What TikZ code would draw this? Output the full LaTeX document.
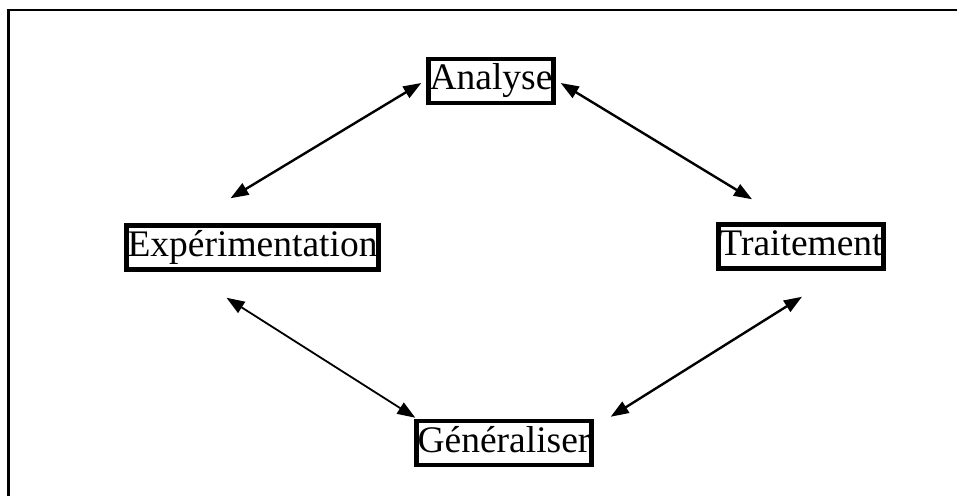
\documentclass[tikz,border=0pt]{standalone}
\usepackage{fontspec}
\setmainfont{Liberation Serif}
\usepackage{tikz}
\usetikzlibrary{arrows.meta, positioning}
\tikzset{
  stagebox/.style={draw=black, line width=4.5pt, fill=white,
    inner xsep=1pt, inner ysep=5pt, text height=26pt, text depth=8pt,
    font=\fontsize{37.5}{44}\selectfont},
  cyclelink/.style={{Triangle[length=18pt,width=13pt]}-{Triangle[length=18pt,width=13pt]},
    line width=2.4pt},
  framerule/.style={line width=2.5pt}
}

\begin{document}
\begin{tikzpicture}[x=1pt, y=1pt]
  \useasboundingbox (0,0) rectangle (957,496);

  %% Open frame (top and left only)
  \draw[framerule] (8.5,0) -- (8.5,486) -- (957,486);

  %% Stages of the cycle
  \node[stagebox] (ana) at (491,415)   {Analyse};
  \node[stagebox] (exp) at (252.5,248.5) {Expérimentation};
  \node[stagebox] (trt) at (801,249.5) {Traitement};
  \node[stagebox] (gen) at (504,53)    {Généraliser};

  %% Links
  \draw[cyclelink] ([shift={(-5pt,-2pt)}]ana.west) -- ([shift={(-22pt,25pt)}]exp.north);
  \draw[cyclelink] ([shift={(5pt,-2pt)}]ana.east) -- ([shift={(-49pt,23pt)}]trt.north);
  \draw[cyclelink, line width=1.8pt] ([shift={(-26pt,-26pt)}]exp.south) -- ([shift={(1pt,1pt)}]gen.north west);
  \draw[cyclelink] ([shift={(1pt,-26pt)}]trt.south) -- ([shift={(17pt,2pt)}]gen.north east);
\end{tikzpicture}
\end{document}
